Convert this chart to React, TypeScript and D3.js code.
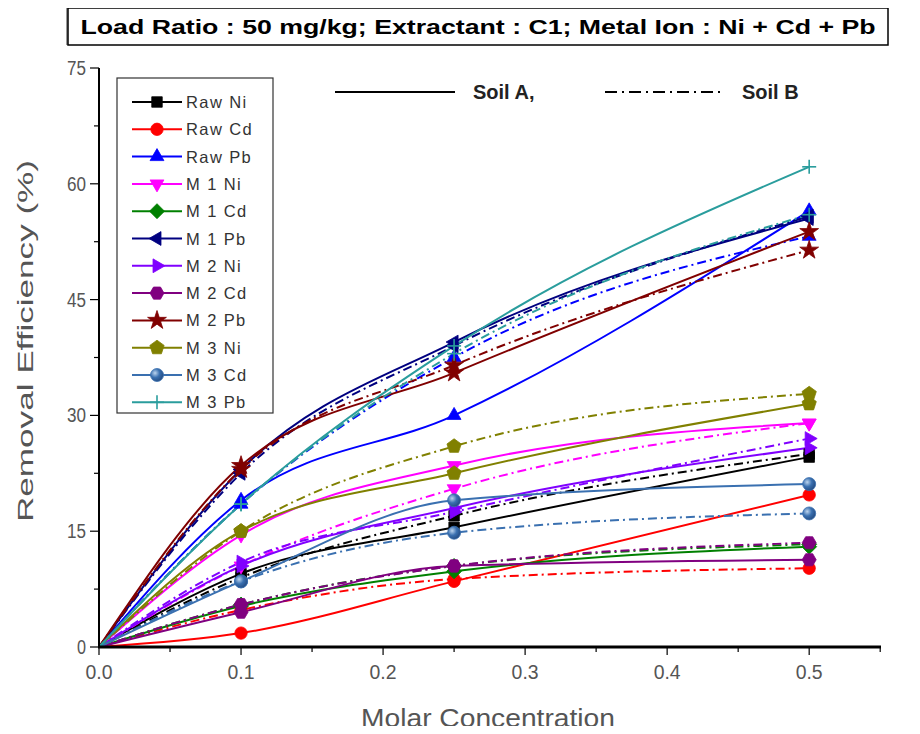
import React from "react";
import * as d3 from "d3";

const xValues = [0, 0.1, 0.25, 0.5];
const seriesNames = ["Raw Ni", "Raw Cd", "Raw Pb", "M 1 Ni", "M 1 Cd", "M 1 Pb", "M 2 Ni", "M 2 Cd", "M 2 Pb", "M 3 Ni", "M 3 Cd", "M 3 Pb"];
const seriesColors = ["#000000", "#ff0000", "#0000ff", "#ff00ff", "#008000", "#000080", "#8000ff", "#800080", "#800000", "#808000", "#3a70b0", "#2a9d9d"];
const seriesMarkers = ["square", "circle", "triUp", "triDown", "diamond", "triLeft", "triRight", "hex", "star", "pentagon", "sphere", "plus"];
// Soil A (solid lines)
const soilA = [
  [0, 9.5, 15.5, 24.6],
  [0, 1.8, 8.5, 19.7],
  [0, 19, 30, 56.5],
  [0, 14.5, 23.5, 29],
  [0, 5.3, 9.8, 13],
  [0, 23, 39.5, 55.5],
  [0, 10.5, 18, 25.8],
  [0, 4.5, 10.5, 11.3],
  [0, 23.5, 35.5, 53.8],
  [0, 15, 22.5, 31.5],
  [0, 8.5, 19, 21.1],
  [0, 18.5, 39, 62.2],
];
// Soil B (dash-dot lines)
const soilB = [
  [0, 9, 17, 25],
  [0, 4.8, 8.8, 10.2],
  [0, 18.5, 37.5, 53.2],
  [0, 10.5, 20.5, 29],
  [0, 5.5, 10.5, 13.3],
  [0, 22.5, 39, 55.8],
  [0, 11, 17.5, 27],
  [0, 5.5, 10.5, 13.5],
  [0, 23, 36.5, 51.4],
  [0, 15, 26, 32.8],
  [0, 8.5, 14.8, 17.3],
  [0, 18.5, 38, 56],
];
const xTicks = [0, 0.1, 0.2, 0.3, 0.4, 0.5];
const yTicks = [0, 15, 30, 45, 60, 75];
const titleText = "Load Ratio : 50 mg/kg; Extractant : C1; Metal Ion : Ni + Cd + Pb";

const W = 920, H = 734;
const x = d3.scaleLinear().domain([0, 0.55]).range([99, 880.2]);
const y = d3.scaleLinear().domain([0, 75]).range([647, 68]);

function trianglePath(r: number, angleDeg: number) {
  const pts = [0, 120, 240].map((a) => {
    const t = ((a + angleDeg - 90) * Math.PI) / 180;
    return [r * Math.cos(t), r * Math.sin(t)];
  });
  return "M" + pts.map((p) => p.join(",")).join("L") + "Z";
}
function polyPath(n: number, r: number, rot: number) {
  const pts = d3.range(n).map((i) => {
    const t = rot + (i * 2 * Math.PI) / n;
    return [r * Math.cos(t), r * Math.sin(t)];
  });
  return "M" + pts.map((p) => p.join(",")).join("L") + "Z";
}

function Marker({ kind, color, cx, cy }: { kind: string; color: string; cx: number; cy: number }) {
  const t = `translate(${cx},${cy})`;
  let d = "";
  switch (kind) {
    case "square": d = d3.symbol(d3.symbolSquare, 110)()!; break;
    case "circle": d = d3.symbol(d3.symbolCircle, 120)()!; break;
    case "triUp": d = trianglePath(8, 0); break;
    case "triDown": d = trianglePath(8, 180); break;
    case "triLeft": d = trianglePath(8, 270); break;
    case "triRight": d = trianglePath(8, 90); break;
    case "diamond": d = polyPath(4, 7.5, 0); break;
    case "hex": d = polyPath(6, 7, 0); break;
    case "star": d = d3.symbol(d3.symbolStar, 110)()!; break;
    case "pentagon": d = polyPath(5, 7.5, -Math.PI / 2); break;
    case "sphere":
      return (
        <g transform={t}>
          <circle r={6.5} fill="url(#sphereGrad)" stroke={color} strokeWidth={0.8} />
        </g>
      );
    case "plus":
      return (
        <g transform={t} stroke={color} strokeWidth={1.6}>
          <line x1={-7} x2={7} y1={0} y2={0} />
          <line x1={0} x2={0} y1={-7} y2={7} />
        </g>
      );
  }
  return <path d={d} transform={t} fill={color} stroke={color} strokeWidth={0.8} />;
}

export default function App() {
  const line = d3
    .line<number>()
    .x((_, i) => x(xValues[i]))
    .y((v) => y(v))
    .curve(d3.curveMonotoneX);

  const minorX = d3.range(0, 0.551, 0.05);
  const minorY = d3.range(0, 75.01, 7.5);
  const legendY0 = 102;
  const legendDy = 27.3;

  return (
    <svg width={W} height={H} style={{ display: "block", margin: "-8px", background: "#fff" }} fontFamily="'Liberation Sans', Arial, sans-serif">
      <defs>
        <radialGradient id="sphereGrad" cx="0.35" cy="0.35" r="0.7">
          <stop offset="0" stopColor="#bcd4ee" />
          <stop offset="0.5" stopColor="#3a70b0" />
          <stop offset="1" stopColor="#234a80" />
        </radialGradient>
      </defs>
      <rect width={W} height={H} fill="#fff" />
      {/* Title box */}
      <rect x={66} y={6} width={822} height={39} fill="#999" />
      <rect x={68} y={8} width={820} height={37} fill="#fff" stroke="#000" strokeWidth={1.5} />
      <text x={478} y={34} textAnchor="middle" fontWeight="bold" fontSize={21} textLength={795} lengthAdjust="spacingAndGlyphs" fill="#000">
        {titleText}
      </text>

      {/* Series lines */}
      {seriesNames.map((n, i) => (
        <g key={"l" + n}>
          <path d={line(soilB[i])!} fill="none" stroke={seriesColors[i]} strokeWidth={2} strokeDasharray="9,4,2,4" />
          <path d={line(soilA[i])!} fill="none" stroke={seriesColors[i]} strokeWidth={2} />
        </g>
      ))}
      {/* Markers */}
      {seriesNames.map((n, i) => (
        <g key={"m" + n}>
          {xValues.map((xv, j) =>
            j === 0 ? null : (
              <g key={j}>
                <Marker kind={seriesMarkers[i]} color={seriesColors[i]} cx={x(xv)} cy={y(soilA[i][j])} />
                <Marker kind={seriesMarkers[i]} color={seriesColors[i]} cx={x(xv)} cy={y(soilB[i][j])} />
              </g>
            )
          )}
        </g>
      ))}

      {/* Axes */}
      <line x1={99} x2={99} y1={68} y2={648} stroke="#000" strokeWidth={2} />
      <line x1={98} x2={881} y1={647} y2={647} stroke="#000" strokeWidth={3} />
      {minorX.map((v, i) => (
        <line key={"mx" + i} x1={x(v)} x2={x(v)} y1={647} y2={i % 2 === 0 ? 655 : 652} stroke="#000" strokeWidth={1.2} />
      ))}
      {minorY.map((v, i) => (
        <line key={"my" + i} x1={99} x2={i % 2 === 0 ? 90 : 94} y1={y(v)} y2={y(v)} stroke="#000" strokeWidth={1.2} />
      ))}
      {xTicks.map((v) => (
        <text key={"xt" + v} x={x(v)} y={679} textAnchor="middle" fontSize={20} fill="#555" textLength={27} lengthAdjust="spacingAndGlyphs">
          {v.toFixed(1)}
        </text>
      ))}
      {yTicks.map((v) => (
        <text key={"yt" + v} x={86} y={y(v) + 7} textAnchor="end" fontSize={20} fill="#555" textLength={v === 0 ? 9 : 19} lengthAdjust="spacingAndGlyphs">
          {v}
        </text>
      ))}
      <text x={488} y={727} textAnchor="middle" fontSize={25} fill="#555" textLength={254} lengthAdjust="spacingAndGlyphs">
        Molar Concentration
      </text>
      <text transform="translate(33,341) rotate(-90)" textAnchor="middle" fontSize={22} fill="#555" textLength={362} lengthAdjust="spacingAndGlyphs">
        Removal Efficiency (%)
      </text>

      {/* Soil legend */}
      <line x1={335} x2={455} y1={92} y2={92} stroke="#000" strokeWidth={2} />
      <text x={473} y={99} fontWeight="bold" fontSize={20} fill="#222">Soil A,</text>
      <line x1={605} x2={725} y1={92} y2={92} stroke="#000" strokeWidth={2} strokeDasharray="12,5,2,5" />
      <text x={742} y={99} fontWeight="bold" fontSize={20} fill="#222">Soil B</text>

      {/* Series legend */}
      <rect x={117} y={78} width={156} height={335} fill="#fff" stroke="#333" strokeWidth={1.2} />
      {seriesNames.map((n, i) => {
        const ly = legendY0 + i * legendDy;
        return (
          <g key={"lg" + n}>
            <line x1={132} x2={182} y1={ly} y2={ly} stroke={seriesColors[i]} strokeWidth={2} />
            <Marker kind={seriesMarkers[i]} color={seriesColors[i]} cx={157} cy={ly} />
            <text x={186} y={ly + 6} fontSize={16.5} fill="#333" letterSpacing={1.4}>
              {n}
            </text>
          </g>
        );
      })}
    </svg>
  );
}
